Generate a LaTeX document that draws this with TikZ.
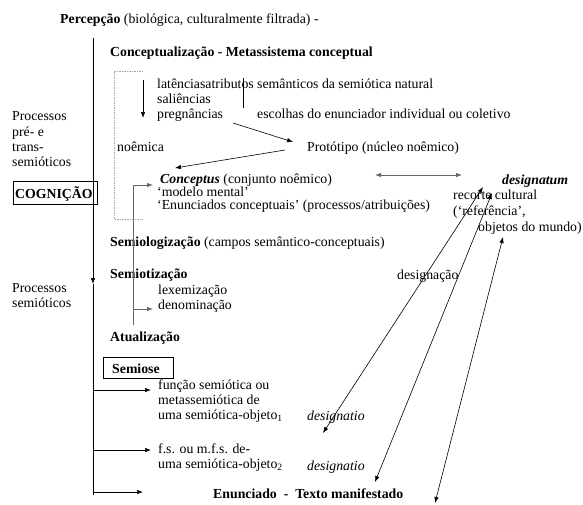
\documentclass[tikz,border=0pt]{standalone}
\usepackage{fontspec}
\setmainfont{Liberation Serif}
\usetikzlibrary{arrows.meta}
\begin{document}
\begin{tikzpicture}[x=1pt,y=-1pt,
  txt/.style={anchor=base west,inner sep=0pt,font=\fontsize{13.8}{15}\selectfont},
  tip/.style={-{Latex[length=6pt,width=4.5pt]}},
  arr/.style={tip,line width=0.6pt,black},
  dbl/.style={{Latex[length=6pt,width=4.5pt]}-{Latex[length=6pt,width=4.5pt]},line width=0.6pt},
  grayarr/.style={tip,line width=0.9pt,draw=black!60},
  graydbl/.style={{Latex[length=6pt,width=4.5pt]}-{Latex[length=6pt,width=4.5pt]},line width=0.9pt,draw=black!60,fill=black!60},
  bracket/.style={draw=black!35,dash pattern=on 1.5pt off 1pt,line width=0.5pt}
]
\useasboundingbox (0,0) rectangle (583,504);

% ---- texts ----
\node[txt] (perc) at (60,23) {\textbf{Percepção} (biológica, culturalmente filtrada) -};
\node[txt] (conc) at (110,56) {\textbf{Conceptualização - Metassistema conceptual}};
\node[txt] (lat) at (157,88) {latênciasatributos semânticos da semiótica natural};
\node[txt] (sal) at (157,103) {saliências};
\node[txt] (preg) at (157,118) {pregnâncias};
\node[txt] (esc) at (257,118) {escolhas do enunciador individual ou coletivo};
\node[txt] (proc1) at (12,120) {Processos};
\node[txt] (pre) at (12,136) {pré- e};
\node[txt] (trans) at (12,151) {trans-};
\node[txt] (semi1) at (12,166) {semióticos};
\node[txt] (noem) at (117,151) {noêmica};
\node[txt] (prot) at (307,151) {Protótipo (núcleo noêmico)};
\node[txt] (cpt) at (160,183) {\textbf{\textit{Conceptus}} (conjunto noêmico)};
\node[txt] (mod) at (157,196) {‘modelo mental’};
\node[txt] (enun) at (157,209) {‘Enunciados conceptuais’ (processos/atribuições)};
\node[txt] (dsgm) at (502,184) {\textbf{\textit{designatum}}};
\node[txt] (rec) at (453,199) {recorte cultural};
\node[txt] (ref) at (453,215) {(‘referência’,};
\node[txt] (obj) at (478,231) {objetos do mundo)};
\node[txt] (slg) at (110,246) {\textbf{Semiologização} (campos semântico-conceptuais)};
\node[txt] (stz) at (110,278) {\textbf{Semiotização}};
\node[txt] (dsgc) at (397,279) {designação};
\node[txt] (proc2) at (12,292) {Processos};
\node[txt] (semi2) at (12,307) {semióticos};
\node[txt] (lex) at (158,294) {lexemização};
\node[txt] (den) at (158,309) {denominação};
\node[txt] (atu) at (110,341) {\textbf{Atualização}};
\node[txt] (fun) at (158,389) {função semiótica ou};
\node[txt] (meta) at (158,404) {metassemiótica de};
\node[txt] (ob1) at (158,419) {uma semiótica-objeto\textsubscript{1}};
\node[txt] (dsg1) at (307,420) {\textit{designatio}};
\node[txt] (fs) at (158,453) {f.s. ou m.f.s. de-};
\node[txt] (ob2) at (158,468) {uma semiótica-objeto\textsubscript{2}};
\node[txt] (dsg2) at (307,470) {\textit{designatio}};
\node[txt] (txt) at (213,498) {\textbf{Enunciado\ \ -\ \ Texto manifestado}};

% ---- framed labels ----
\draw[line width=0.6pt] (13,181) rectangle (97,204);
\node[txt,font=\fontsize{13.8}{15}\selectfont\bfseries] (cog) at (15,198) {COGNIÇÃO};
\draw[line width=0.6pt] (103,357) rectangle (173,378);
\node[txt,font=\fontsize{13.8}{15}\selectfont\bfseries] (sem) at (112,373) {Semiose};

% ---- main trunk ----
\coordinate (mTop) at (93,38);
\coordinate (mMid) at (93,284);
\coordinate (mBot) at (93,495);
\coordinate (b1) at (93,390);
\coordinate (b2) at (93,450);
\coordinate (b3) at (93,492);
\coordinate (e1) at (151,390);
\coordinate (e2) at (151,450);
\coordinate (e3) at (143,492);
\draw[arr] (mTop) -- (mMid);
\draw[line width=0.6pt] (mMid) -- (mBot);
\draw[arr] (b1) -- (e1);
\draw[arr] (b2) -- (e2);
\draw[arr] (b3) -- (e3);

% ---- conceptual bracket ----
\draw[bracket] (143,71) -- (114,71) -- (114,219) -- (143,219);
\coordinate (dA) at (143,80);
\coordinate (dB) at (143,118);
\draw[arr] (dA) -- (dB);
\coordinate (vA) at (243,78);
\coordinate (vB) at (243,108);
\draw[line width=0.6pt] (vA) -- (vB);
\coordinate (pA) at (233,123);
\coordinate (pB) at (293,142);
\draw[arr] (pA) -- (pB);
\coordinate (qA) at (285,150);
\coordinate (qB) at (175,168);
\draw[arr] (qA) -- (qB);

% ---- gray return line ----
\coordinate (gTop) at (133,185);
\coordinate (gBot) at (133,325);
\coordinate (gT) at (153,185);
\coordinate (gD0) at (133,309);
\coordinate (gD) at (153,309);
\draw[draw=black!60,line width=0.9pt] (gTop) -- (gBot);
\draw[grayarr] (gTop) -- (gT);
\draw[grayarr] (gD0) -- (gD);

% ---- Conceptus <-> designatum ----
\coordinate (cL) at (375,175);
\coordinate (cR) at (462,175);
\draw[graydbl] (cL) -- (cR);

% ---- designation lines ----
\coordinate (l1a) at (323,433);
\coordinate (l1b) at (483,187);
\coordinate (l2a) at (375,482);
\coordinate (l2b) at (492,193);
\coordinate (l3a) at (435,503);
\coordinate (l3b) at (503,237);
\draw[dbl] (l1a) -- (l1b);
\draw[dbl] (l2a) -- (l2b);
\draw[dbl] (l3a) -- (l3b);
\end{tikzpicture}
\end{document}
